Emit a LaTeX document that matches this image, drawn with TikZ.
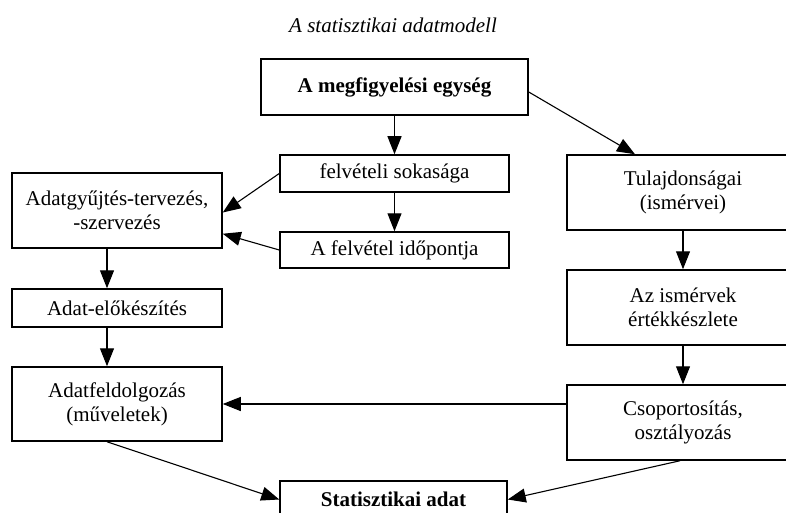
\documentclass[tikz,border=0pt]{standalone}
\usepackage{fontspec}
\setmainfont{Liberation Serif}
\usetikzlibrary{arrows.meta}

\begin{document}
\begin{tikzpicture}[x=1pt, y=-1pt,
    every node/.style={font=\fontsize{21}{24}\selectfont},
    box/.style={draw, line width=1.5pt, align=center, inner sep=0pt},
    arr/.style={-{Triangle[length=18pt, width=14pt]}, line width=1.1pt}]
    \useasboundingbox (0,0) rectangle (786,513);
    % Title
    \node (title) at (393,25) {\itshape A statisztikai adatmodell};
    % Middle column
    \node[box, minimum width=267pt, minimum height=56pt] (megf) at (394.5,87) {\bfseries A megfigyelési egység};
    \node[box, minimum width=229pt, minimum height=37pt] (felv) at (394.5,173.5) {felvételi sokasága};
    \node[box, minimum width=229pt, minimum height=36pt] (ido) at (394.5,250) {A felvétel időpontja};
    \node[box, minimum width=227pt, minimum height=37pt] (stat) at (393.5,499.5) {\bfseries Statisztikai adat};
    % Left column
    \node[box, minimum width=210pt, minimum height=75pt] (gyujt) at (117,210.5) {Adatgyűjtés-tervezés,\\-szervezés};
    \node[box, minimum width=210pt, minimum height=38pt] (elok) at (117,308) {Adat-előkészítés};
    \node[box, minimum width=210pt, minimum height=74pt] (feld) at (117,404) {Adatfeldolgozás\\(műveletek)};
    % Right column
    \node[box, minimum width=232pt, minimum height=75pt] (tul) at (683,192.5) {Tulajdonságai\\(ismérvei)};
    \node[box, minimum width=232pt, minimum height=75pt] (ism) at (683,307.5) {Az ismérvek\\értékkészlete};
    \node[box, minimum width=232pt, minimum height=75pt] (csop) at (683,422.5) {Csoportosítás,\\osztályozás};
    % Connections
    \draw[arr] (megf) -- (felv);
    \draw[arr] (felv) -- (ido);
    \draw[arr] ([yshift=-5pt]megf.east) -- ([xshift=-48pt]tul.north);
    \draw[arr] (felv.west) -- ([yshift=-2pt]gyujt.east);
    \draw[arr] (ido.west) -- ([yshift=15pt]gyujt.south east);
    \foreach \a/\b in {gyujt/elok, elok/feld}
        \draw[arr] ([xshift=-10pt]\a.south) -- ([xshift=-10pt]\b.north);
    \foreach \a/\b in {tul/ism, ism/csop}
        \draw[arr] (\a) -- (\b);
    \draw[arr] (feld.east -| csop.west) -- (feld.east);
    \draw[arr] ([xshift=-10pt]feld.south) -- (stat.west);
    \draw[arr] ([xshift=-3pt]csop.south) -- (stat.east);
\end{tikzpicture}
\end{document}
